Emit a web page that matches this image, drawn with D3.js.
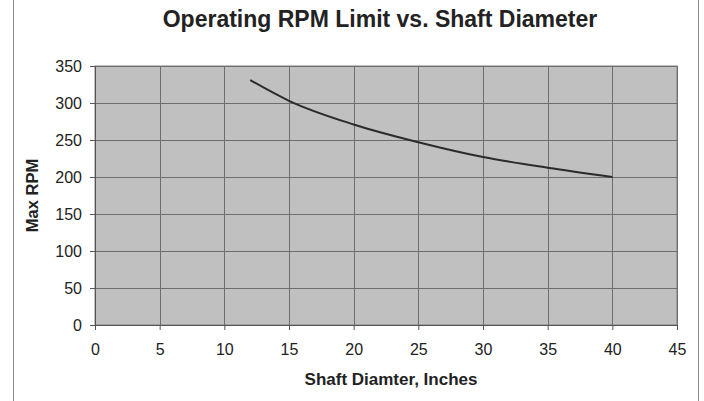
<!DOCTYPE html>
<html lang="en">
  <head>
    <meta charset="utf-8">
    <script src="https://d3js.org/d3.v7.min.js"></script>
    <style type="text/css">
body {
  margin: 0;
  background: white;
  font-family: Arial, "Liberation Sans", Helvetica, sans-serif;
}
    </style>
  </head>
  <body>
    <div id="chart"></div>
    <script type="text/javascript">
// values
const diameters = [12, 15, 20, 25, 30, 35, 40];
const maxRpm = [331, 303, 271, 247, 227, 212.5, 200];
const xTicks = [0, 5, 10, 15, 20, 25, 30, 35, 40, 45];
const yTicks = [0, 50, 100, 150, 200, 250, 300, 350];

const width = 704;
const height = 401;
const margin = {top: 66, right: 27, bottom: 76, left: 95};

const svg = d3.select("#chart").append("svg")
  .attr("width", width)
  .attr("height", height);

// frame lines at the sides
svg.append("line")
  .attr("x1", 13.5).attr("x2", 13.5).attr("y1", 0).attr("y2", height)
  .attr("stroke", "#8c8c8c");
svg.append("line")
  .attr("x1", 698.5).attr("x2", 698.5).attr("y1", 0).attr("y2", height)
  .attr("stroke", "#8c8c8c");

let x = d3.scaleLinear()
  .domain([0, 45])
  .range([margin.left, width - margin.right]);

let y = d3.scaleLinear()
  .domain([0, 350])
  .range([height - margin.bottom, margin.top]);

svg.append("rect")
  .attr("x", x(0)).attr("y", y(350))
  .attr("width", x(45) - x(0)).attr("height", y(0) - y(350))
  .attr("fill", "#c0c0c0")
  .attr("stroke", "#808080");

// grid
svg.append("g")
  .selectAll("line")
  .data(yTicks.slice(1))
  .join("line")
    .attr("x1", x(0)).attr("x2", x(45))
    .attr("y1", d => Math.round(y(d)) + 0.5).attr("y2", d => Math.round(y(d)) + 0.5)
    .attr("stroke", "#6e6e6e");

svg.append("g")
  .selectAll("line")
  .data(xTicks.slice(1))
  .join("line")
    .attr("x1", d => Math.round(x(d)) + 0.5).attr("x2", d => Math.round(x(d)) + 0.5)
    .attr("y1", y(0)).attr("y2", y(350))
    .attr("stroke", "#6e6e6e");

let xAxis = g => g
  .attr("transform", `translate(0,${y(0)})`)
  .call(d3.axisBottom(x).tickValues(xTicks).tickSize(5).tickPadding(14))
  .call(g => g.select(".domain").attr("stroke", "#555"))
  .call(g => g.selectAll(".tick line").attr("stroke", "#555"))
  .call(g => g.selectAll(".tick text")
    .attr("font-size", 16).attr("font-family", "Arial, 'Liberation Sans', sans-serif")
    .attr("fill", "#222"));

let yAxis = g => g
  .attr("transform", `translate(${x(0)},0)`)
  .call(d3.axisLeft(y).tickValues(yTicks).tickSize(5).tickPadding(8))
  .call(g => g.select(".domain").attr("stroke", "#555"))
  .call(g => g.selectAll(".tick line").attr("stroke", "#555"))
  .call(g => g.selectAll(".tick text")
    .attr("font-size", 16).attr("font-family", "Arial, 'Liberation Sans', sans-serif")
    .attr("fill", "#222"));

svg.append("g").call(xAxis);
svg.append("g").call(yAxis);

let line = d3.line()
  .x((d, i) => x(d))
  .y((d, i) => y(maxRpm[i]))
  .curve(d3.curveMonotoneX);

svg.append("path")
  .datum(diameters)
  .attr("fill", "none")
  .attr("stroke", "#2b2b2b")
  .attr("stroke-width", 2)
  .attr("d", line);

svg.append("text")
  .attr("x", 380).attr("y", 27)
  .attr("text-anchor", "middle")
  .attr("font-size", 23).attr("font-weight", "bold")
  .attr("fill", "#222")
  .text("Operating RPM Limit vs. Shaft Diameter");

svg.append("text")
  .attr("x", 391).attr("y", 385)
  .attr("text-anchor", "middle")
  .attr("font-size", 17).attr("font-weight", "bold")
  .attr("fill", "#222")
  .text("Shaft Diamter, Inches");

svg.append("text")
  .attr("transform", `translate(37.5,${(y(0) + y(350)) / 2}) rotate(-90)`)
  .attr("text-anchor", "middle")
  .attr("font-size", 16.5).attr("font-weight", "bold")
  .attr("fill", "#222")
  .text("Max RPM");
    </script>
  </body>
</html>
